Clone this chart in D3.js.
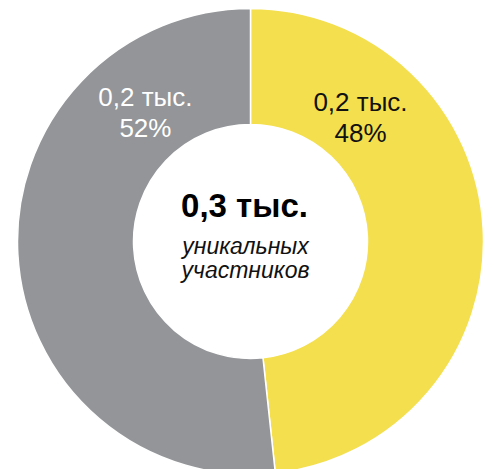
<!DOCTYPE html>
<html><head><meta charset="utf-8">
<script src="https://cdn.jsdelivr.net/npm/d3@7"></script>
<style>html,body{margin:0;padding:0;background:#fff;}svg{display:block;font-family:"Liberation Sans",Arial,sans-serif;}</style>
</head><body>
<script>
const categories = ["Группа A", "Группа B"];
const shares = [48.3, 51.7];
const valueLabels = ["0,2 тыс.", "0,2 тыс."];
const percentLabels = ["48%", "52%"];
const colors = ["#F4DF4E", "#939598"];
const labelColors = ["#111111", "#ffffff"];
const totalLabel = "0,3 тыс.";
const subtitleLines = ["уникальных", "участников"];

const W = 494, H = 469;
const cx = 250.5, cy = 241.5, rOuter = 233, rInner = 117;

const svg = d3.select("body").append("svg").attr("width", W).attr("height", H);
svg.append("rect").attr("width", W).attr("height", H).attr("fill", "#fff");

const data = categories.map((c, i) => ({cat: c, v: shares[i], i}));
const pie = d3.pie().value(d => d.v).sort(null);
const arc = d3.arc().innerRadius(rInner).outerRadius(rOuter);

const g = svg.append("g").attr("transform", `translate(${cx},${cy})`);
g.selectAll("path").data(pie(data)).join("path")
  .attr("d", arc)
  .attr("fill", d => colors[d.data.i])
  .attr("stroke", "#fff").attr("stroke-width", 1.5);

// labels placed at fixed angles near the top of each slice
const labelAngle = [41.5, -39], labelR = [166, 167];
data.forEach((d, i) => {
  const a = labelAngle[i] * Math.PI / 180;
  const x = labelR[i] * Math.sin(a), y = -labelR[i] * Math.cos(a);
  const t = g.append("text").attr("text-anchor", "middle").attr("fill", labelColors[i])
    .attr("font-size", 26);
  t.append("tspan").attr("x", x).attr("y", y - 6).text(valueLabels[i]);
  t.append("tspan").attr("x", x).attr("y", y + 25).text(percentLabels[i]);
});

g.append("text").attr("text-anchor", "middle").attr("x", -6).attr("y", -25)
  .attr("font-size", 33).attr("font-weight", "bold").attr("fill", "#000").text(totalLabel);
subtitleLines.forEach((s, i) => {
  g.append("text").attr("text-anchor", "middle").attr("x", -5).attr("y", 12 + i * 24)
    .attr("font-size", 23).attr("font-style", "italic").attr("fill", "#111").text(s);
});
</script>
</body></html>
